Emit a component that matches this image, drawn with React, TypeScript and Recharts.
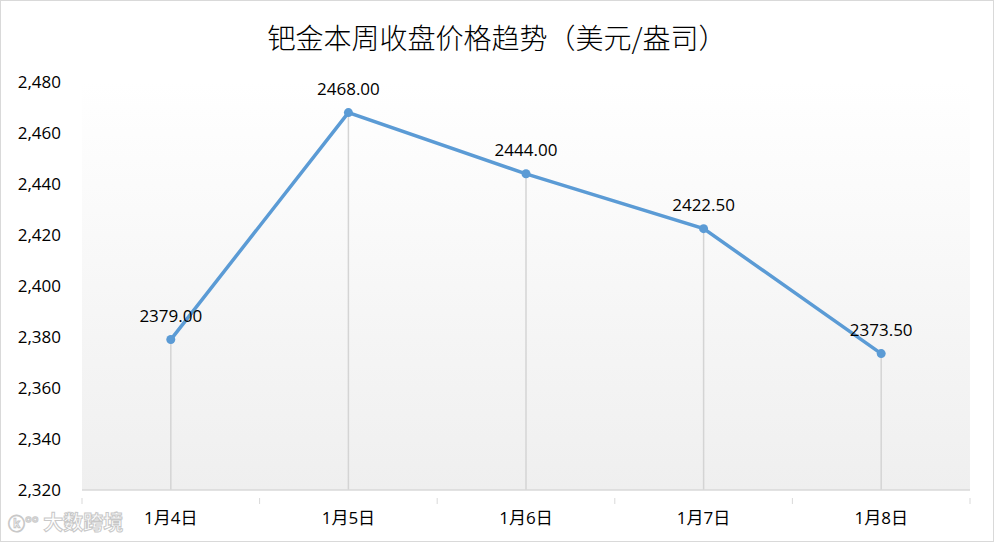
import React from "react";
import {
  LineChart,
  Line,
  XAxis,
  YAxis,
  CartesianGrid,
  ReferenceLine,
  LabelList,
} from "recharts";

const days = ["1月4日", "1月5日", "1月6日", "1月7日", "1月8日"];
const closePrices = [2379.0, 2468.0, 2444.0, 2422.5, 2373.5];
const yTicks = [2320, 2340, 2360, 2380, 2400, 2420, 2440, 2460, 2480];

const data = days.map((day, i) => ({ day, price: closePrices[i] }));

const W = 994;
const H = 542;
const LEFT = 82;
const RIGHT = 24;
const STEP = (W - LEFT - RIGHT) / days.length;
const FONT = "'Open Sans', 'Noto Sans CJK SC', sans-serif";
const GRID = "#d9d9d9";

function DayTick(props: any) {
  const { x, y, payload, index } = props;
  const last = index === days.length - 1;
  return (
    <g>
      <line x1={x - STEP / 2} x2={x - STEP / 2} y1={y} y2={y + 6} stroke={GRID} />
      {last && <line x1={x + STEP / 2} x2={x + STEP / 2} y1={y} y2={y + 6} stroke={GRID} />}
      <text x={x} y={y + 26} textAnchor="middle" fontSize={17} fill="#000" fontFamily={FONT}>
        {payload.value}
      </text>
    </g>
  );
}

export default function App() {
  return (
    <div style={{ position: "absolute", left: 0, top: 0, width: W, height: H, background: "#fff" }}>
      <svg width={0} height={0} style={{ position: "absolute" }}>
        <defs>
          <linearGradient id="plotBg" x1="0" y1="0" x2="0" y2="1">
            <stop offset="0%" stopColor="#ffffff" />
            <stop offset="100%" stopColor="#efefef" />
          </linearGradient>
        </defs>
      </svg>
      <div
        style={{
          position: "absolute",
          left: 0,
          top: 0,
          width: W - 2,
          height: H - 2,
          border: "1px solid #d9d9d9",
          zIndex: 2,
          pointerEvents: "none",
        }}
      />
      <div
        style={{
          position: "absolute",
          top: 17,
          left: 0,
          width: W,
          textAlign: "center",
          fontFamily: "'Noto Sans CJK SC', sans-serif",
          fontSize: 28,
          color: "#000",
          fontWeight: 300,
        }}
      >
        钯金本周收盘价格趋势（美元/盎司）
      </div>
      <div
        style={{
          position: "absolute",
          left: 8,
          top: 507,
          fontFamily: "'Noto Sans CJK SC', sans-serif",
          fontSize: 20,
          fontWeight: 700,
          color: "#fff",
          WebkitTextStroke: "1px #c8c8c8",
          whiteSpace: "nowrap",
        }}
      >
        <span style={{ fontSize: 17 }}>ⓚ°°</span> 大数跨境
      </div>
      <LineChart
        width={W}
        height={H}
        data={data}
        margin={{ top: 82, right: RIGHT, bottom: 0, left: 0 }}
      >
        <CartesianGrid horizontal={false} vertical={false} fill="url(#plotBg)" />
        <XAxis
          dataKey="day"
          scale="band"
          height={52}
          axisLine={{ stroke: GRID, strokeWidth: 1.5 }}
          tickLine={false}
          tick={<DayTick />}
          interval={0}
        />
        <YAxis
          width={LEFT}
          domain={[2320, 2480]}
          ticks={yTicks}
          axisLine={false}
          tickLine={false}
          tickSize={0}
          tickMargin={21}
          tickFormatter={(v: number) => v.toLocaleString("en-US")}
          tick={{ fontSize: 17, fill: "#000", fontFamily: FONT }}
        />
        {data.map((d) => (
          <ReferenceLine
            key={d.day}
            segment={[
              { x: d.day, y: 2320 },
              { x: d.day, y: d.price },
            ]}
            stroke="#d4d4d4"
            strokeWidth={1.5}
          />
        ))}
        <Line
          type="linear"
          dataKey="price"
          stroke="#5b9bd5"
          strokeWidth={3.5}
          dot={{ r: 4.5, fill: "#5b9bd5", stroke: "#5b9bd5", strokeWidth: 0 }}
          isAnimationActive={false}
        >
          <LabelList
            dataKey="price"
            position="top"
            offset={18}
            formatter={(v: any) => Number(v).toFixed(2)}
            style={{ fontSize: 17, fill: "#000", fontFamily: FONT }}
          />
        </Line>
      </LineChart>
    </div>
  );
}
